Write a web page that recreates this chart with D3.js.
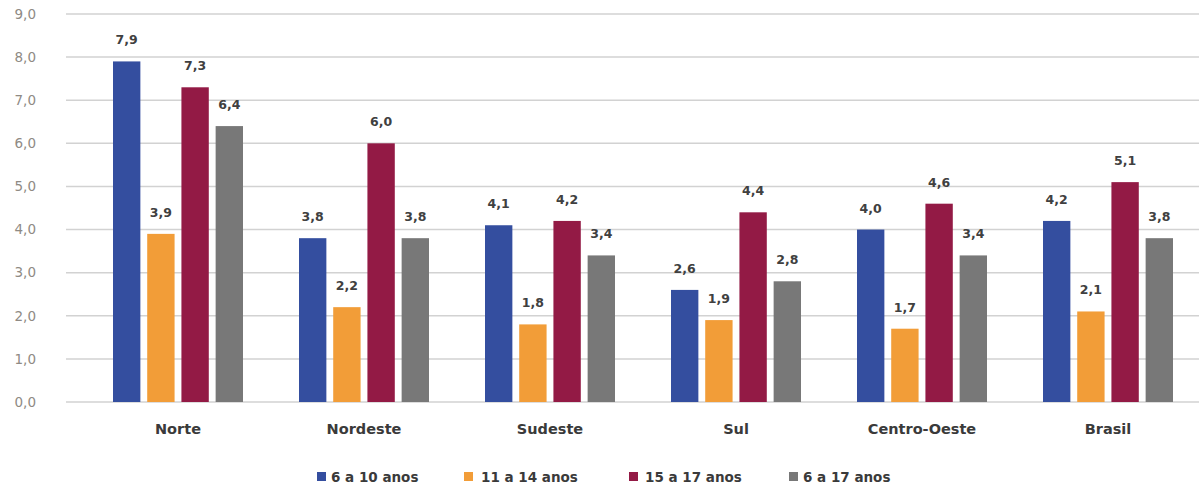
<!DOCTYPE html>
<html>
<head>
<meta charset="utf-8">
<script src="https://cdn.jsdelivr.net/npm/d3@7"></script>
<style>
  body { margin: 0; background: #fff; }
  svg { display: block; font-family: "DejaVu Sans", Verdana, sans-serif; }
  .axis-y text { fill: #8f8a84; font-size: 13.5px; }
  .cat-label { fill: #3a3a3a; font-size: 14.5px; font-weight: bold; }
  .bar-label { fill: #404040; font-size: 12.5px; font-weight: bold; }
  .legend text { fill: #3a3a3a; font-size: 13.5px; font-weight: bold; }
</style>
</head>
<body>
<svg id="chart" width="1199" height="487"></svg>
<script>
const regions = ["Norte", "Nordeste", "Sudeste", "Sul", "Centro-Oeste", "Brasil"];
const series = ["6 a 10 anos", "11 a 14 anos", "15 a 17 anos", "6 a 17 anos"];
const colors = ["#344e9f", "#f29d38", "#931a45", "#787878"];
const v6a10 = [7.9, 3.8, 4.1, 2.6, 4.0, 4.2];
const v11a14 = [3.9, 2.2, 1.8, 1.9, 1.7, 2.1];
const v15a17 = [7.3, 6.0, 4.2, 4.4, 4.6, 5.1];
const v6a17 = [6.4, 3.8, 3.4, 2.8, 3.4, 3.8];
const yTicks = [0, 1, 2, 3, 4, 5, 6, 7, 8, 9];

const values = [v6a10, v11a14, v15a17, v6a17];
const data = regions.map((r, i) => ({
    region: r,
    vals: series.map((s, j) => ({ key: s, value: values[j][i], c: colors[j] }))
}));

const fmt = v => d3.format(".1f")(v).replace(".", ",");

const svg = d3.select("#chart");
const grid = { left: 66, right: 1199 };

const x = d3.scaleBand().domain(regions).range([85, 1201]);
const xInner = d3.scaleBand().domain(series).range([x.bandwidth() / 2 - 65, x.bandwidth() / 2 + 65]).paddingInner(0.2);
const y = d3.scaleLinear().domain([0, 9]).range([402, 14]);

// gridlines + y labels
const yAxis = svg.append("g").attr("class", "axis-y");
yAxis.selectAll("line").data(yTicks).enter().append("line")
    .attr("x1", grid.left).attr("x2", grid.right)
    .attr("y1", d => y(d)).attr("y2", d => y(d))
    .attr("stroke", "#d2d2d2").attr("stroke-width", 1.5);
yAxis.selectAll("text").data(yTicks).enter().append("text")
    .attr("x", 36).attr("y", d => y(d)).attr("dy", "0.35em")
    .attr("text-anchor", "end")
    .text(d => fmt(d));

const groups = svg.append("g").selectAll(".group").data(data).enter()
    .append("g").attr("class", "group")
    .attr("transform", d => `translate(${x(d.region)},0)`);

groups.selectAll("rect").data(d => d.vals).enter().append("rect")
    .attr("x", d => xInner(d.key))
    .attr("width", xInner.bandwidth())
    .attr("y", d => y(d.value))
    .attr("height", d => y(0) - y(d.value))
    .attr("fill", d => d.c);

groups.selectAll(".bar-label").data(d => d.vals).enter().append("text")
    .attr("class", "bar-label")
    .attr("x", d => xInner(d.key) + xInner.bandwidth() / 2)
    .attr("y", d => y(d.value) - 17)
    .attr("text-anchor", "middle")
    .text(d => fmt(d.value));

groups.append("text").attr("class", "cat-label")
    .attr("x", x.bandwidth() / 2).attr("y", 434)
    .attr("text-anchor", "middle")
    .text(d => d.region);

// legend
const legendSq = [317, 464, 629, 789];
const legendTx = [331, 481, 645, 803];
const legend = svg.append("g").attr("class", "legend");
const item = legend.selectAll("g").data(series).enter().append("g");
item.append("rect").attr("x", (d, i) => legendSq[i]).attr("y", 472).attr("width", 9).attr("height", 9)
    .attr("fill", (d, i) => colors[i]);
item.append("text").attr("x", (d, i) => legendTx[i]).attr("y", 477).attr("dy", "0.35em").text(d => d);
</script>
</body>
</html>
